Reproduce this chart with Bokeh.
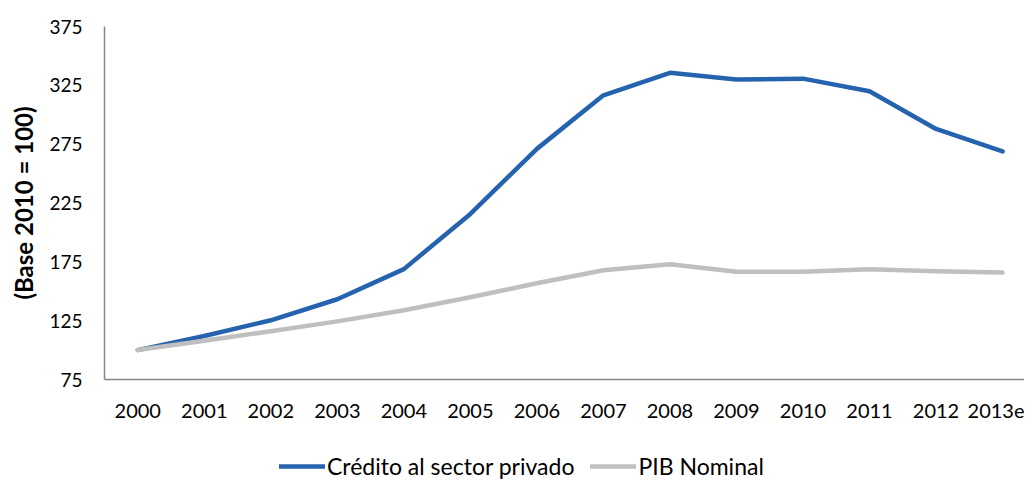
from bokeh.plotting import figure
from bokeh.layouts import column
from bokeh.models import Range1d, FixedTicker, Legend, LegendItem, ColumnDataSource
from bokeh.embed import file_html
from bokeh.resources import INLINE

years = ["2000", "2001", "2002", "2003", "2004", "2005", "2006", "2007",
         "2008", "2009", "2010", "2011", "2012", "2013e"]
credito = [100, 112, 125.3, 143.2, 168.8, 215.7, 271, 316.5, 335.6, 329.9,
           330.7, 320, 287.9, 268.8]
pib = [100, 108, 116, 124.4, 133.8, 144.9, 156.8, 167.9, 173, 166.5,
       166.5, 168.8, 167, 166]
y_ticks = [75, 125, 175, 225, 275, 325, 375]
series_names = ["Crédito al sector privado", "PIB Nominal"]
series_cols = ["credito", "pib"]
series_colors = ["#2563AE", "#BFBFBF"]

FONT = "Lato"
idx = list(range(len(years)))
src = ColumnDataSource(dict(x=idx, credito=credito, pib=pib))

p = figure(width=1024, height=440, output_backend="svg", toolbar_location=None,
           x_range=Range1d(-0.5, 13.33), y_range=Range1d(75, 375),
           min_border_left=104, min_border_top=26, min_border_right=0,
           min_border_bottom=61)
p.outline_line_color = None
p.grid.grid_line_color = None

for col, c in zip(series_cols, series_colors):
    p.line("x", col, source=src, line_color=c, line_width=4.5,
           line_cap="round", line_join="round")

p.xaxis.ticker = FixedTicker(ticks=idx)
p.xaxis.major_label_overrides = {i: y for i, y in zip(idx, years)}
p.yaxis.ticker = FixedTicker(ticks=y_ticks)

for ax in (p.xaxis, p.yaxis):
    ax.axis_line_color = "#868686"
    ax.axis_line_width = 1.5
    ax.major_tick_line_color = None
    ax.minor_tick_line_color = None
    ax.major_tick_out = 0
    ax.major_tick_in = 0
    ax.minor_tick_out = 0
    ax.minor_tick_in = 0
    ax.major_label_text_font = FONT
    ax.major_label_text_color = "black"

p.xaxis.major_label_text_font_size = "20px"
p.yaxis.major_label_text_font_size = "19px"
p.xaxis.major_label_standoff = 24
p.yaxis.major_label_standoff = 22

p.yaxis.axis_label = "(Base 2010 = 100)"
p.yaxis.axis_label_text_font = FONT
p.yaxis.axis_label_text_font_style = "bold"
p.yaxis.axis_label_text_font_size = "24px"
p.yaxis.axis_label_text_color = "black"
p.yaxis.axis_label_standoff = 8

# legend strip underneath the chart (its lines use the same data, outside its view)
p2 = figure(width=1024, height=44, output_backend="svg", toolbar_location=None,
            x_range=Range1d(0, 1), y_range=Range1d(0, 1),
            x_axis_type=None, y_axis_type=None,
            min_border_left=0, min_border_right=0, min_border_top=0, min_border_bottom=0)
p2.outline_line_color = None
p2.grid.grid_line_color = None
lr = [p2.line("x", col, source=src, line_color=c, line_width=4.5, line_cap="round")
      for col, c in zip(series_cols, series_colors)]

legend = Legend(items=[LegendItem(label=n, renderers=[r]) for n, r in zip(series_names, lr)],
                orientation="horizontal", location=(175, 4),
                label_text_font=FONT, label_text_font_size="23px",
                label_text_color="black",
                glyph_width=46, label_standoff=2, spacing=16,
                border_line_color=None, background_fill_alpha=0,
                margin=0, padding=0)
p2.add_layout(legend, "center")

layout = column(p, p2, spacing=0)
open("out.html", "w").write(file_html(layout, INLINE))
